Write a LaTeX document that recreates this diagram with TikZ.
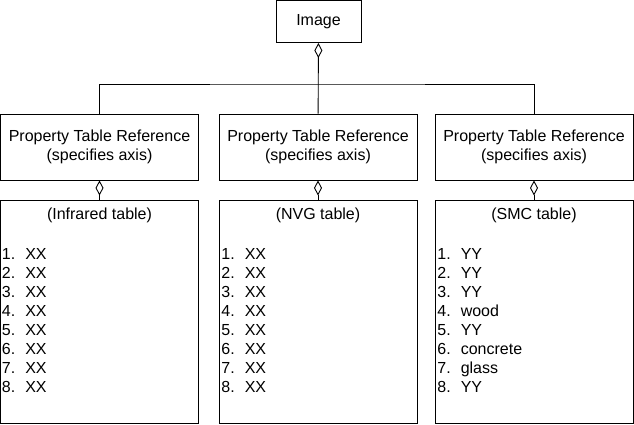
\documentclass[tikz,border=0pt]{standalone}
\usepackage{fontspec}
\setmainfont{Liberation Sans}
\usetikzlibrary{arrows.meta}

\begin{document}
\begin{tikzpicture}[x=1pt, y=-1pt, font=\fontsize{16}{19}\selectfont, line width=0.9pt,
  box/.style={draw, rectangle, inner sep=0pt, align=center},
  reference/.style={box, minimum width=198pt, minimum height=66pt},
  proptable/.style={box, minimum width=198pt, minimum height=223pt},
  itemlist/.style={anchor=north west, inner sep=0pt, align=left},
  aggr/.style={{Diamond[open, width=8pt, length=15pt]}-}]
\useasboundingbox (0, 0) rectangle (634, 424);
\draw (318.5, 21.5)node[box, minimum width=85pt, minimum height=42pt](img){Image};
\draw (99.5, 147)node[reference](ref1){Property Table Reference\\(specifies axis)};
\draw (318, 147)node[reference](ref2){Property Table Reference\\(specifies axis)};
\draw (534, 147)node[reference](ref3){Property Table Reference\\(specifies axis)};
\draw (99.5, 311.5)node[proptable](tab1){};
\draw (318, 311.5)node[proptable](tab2){};
\draw (534, 311.5)node[proptable](tab3){};
\draw (99.5, 215)node(ttl1){(Infrared table)};
\draw (318, 215)node(ttl2){(NVG table)};
\draw (534, 215)node(ttl3){(SMC table)};
\draw (1.5, 248)node[itemlist](lst1){1.\hspace{10pt}XX\\2.\hspace{10pt}XX\\3.\hspace{10pt}XX\\4.\hspace{10pt}XX\\5.\hspace{10pt}XX\\6.\hspace{10pt}XX\\7.\hspace{10pt}XX\\8.\hspace{10pt}XX};
\draw (221, 248)node[itemlist](lst2){1.\hspace{10pt}XX\\2.\hspace{10pt}XX\\3.\hspace{10pt}XX\\4.\hspace{10pt}XX\\5.\hspace{10pt}XX\\6.\hspace{10pt}XX\\7.\hspace{10pt}XX\\8.\hspace{10pt}XX};
\draw (437, 248)node[itemlist](lst3){1.\hspace{10pt}YY\\2.\hspace{10pt}YY\\3.\hspace{10pt}YY\\4.\hspace{10pt}wood\\5.\hspace{10pt}YY\\6.\hspace{10pt}concrete\\7.\hspace{10pt}glass\\8.\hspace{10pt}YY};
\coordinate (bar) at (318, 84);
\draw (ref1) |- (bar) -| (ref3);
\path[aggr] (img) edge (ref2);
\path[aggr] (ref1) edge (tab1);
\path[aggr] (ref2) edge (tab2);
\path[aggr] (ref3) edge (tab3);
\end{tikzpicture}
\end{document}
